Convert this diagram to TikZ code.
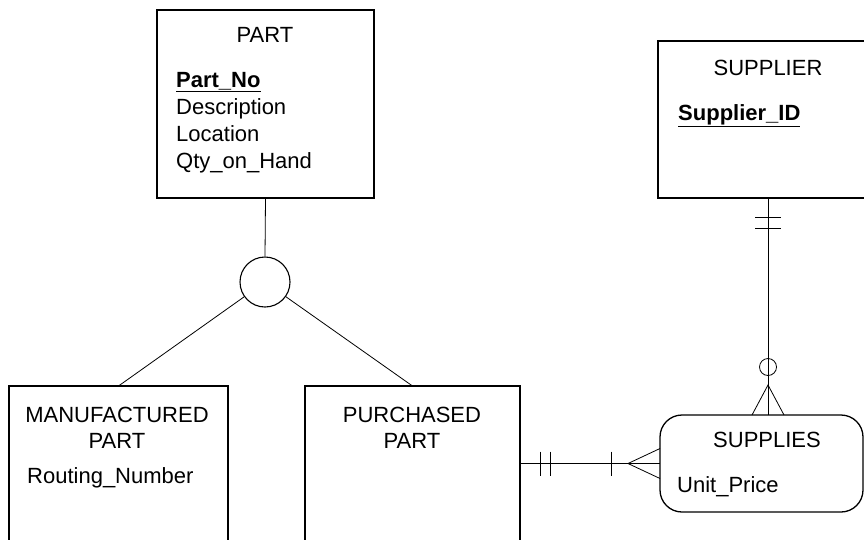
\documentclass[tikz,border=0pt]{standalone}
\usepackage{fontspec}
\setmainfont{Liberation Sans}
\usetikzlibrary{calc,positioning}

\begin{document}
\begin{tikzpicture}[x=1pt, y=-1pt,
    entity/.style={draw, line width=1.3pt, inner sep=0pt, outer sep=0pt},
    assoc/.style={entity, rounded corners=22pt},
    etext/.style={inner sep=0pt, anchor=base, font=\fontsize{22}{27}\selectfont},
    eattr/.style={etext, anchor=base west},
    link/.style={line width=0.8pt},
]
\useasboundingbox (0,0) rectangle (864,539);

% entity boxes
\node[entity, minimum width=217pt, minimum height=188pt] (part) at (265.5,104) {};
\node[entity, minimum width=220pt, minimum height=157pt] (supplier) at (768,119.5) {};
\node[entity, minimum width=219pt, minimum height=180pt] (mpart) at (118.5,476) {};
\node[entity, minimum width=215pt, minimum height=180pt] (ppart) at (412.5,476) {};
\node[assoc, minimum width=203pt, minimum height=97pt] (supplies) at (761.5,463.5) {};
\node[draw, circle, line width=1.1pt, minimum size=50pt, inner sep=0pt] (disj) at (265,282) {};

% texts
\node[etext] (partname) at (265,42) {PART};
\node[eattr] (partno) at (176,87) {\textbf{\underline{Part\_No}}};
\node[eattr] (partdesc) at (176,114) {Description};
\node[eattr] (partloc) at (176,141) {Location};
\node[eattr] (partqty) at (176,168) {Qty\_on\_Hand};

\node[etext] (suppname) at (768,75) {SUPPLIER};
\node[eattr] (suppid) at (678,120) {\textbf{\underline{Supplier\_ID}}};

\node[etext] (mpname) at (117,422) {MANUFACTURED};
\node[etext] (mpname2) at (117,448) {PART};
\node[eattr] (mproute) at (27,483) {Routing\_Number};

\node[etext] (ppname) at (412,422) {PURCHASED};
\node[etext] (ppname2) at (412,448) {PART};

\node[etext] (suppliesname) at (767,447) {SUPPLIES};
\node[eattr] (suppliesprice) at (677,492) {Unit\_Price};

% subtype connectors
\draw[link] (part.south) -- (disj.north);
\draw[link] (disj) -- (mpart.north);
\draw[link] (disj) -- (ppart.north);

% SUPPLIER -- SUPPLIES
\coordinate (sfoot) at (supplier.south |- supplies.north);
\draw[link] (supplier.south) -- (sfoot);
\draw[link] ($(supplier.south)+(-13,19)$) -- ++(26,0);
\draw[link] ($(supplier.south)+(-13,30)$) -- ++(26,0);
\node[draw, circle, link, minimum size=17pt, inner sep=0pt] (sopt) at ($(sfoot)+(0,-48)$) {};
\draw[link] ($(sfoot)+(-16,0)$) -- ($(sfoot)+(0,-30)$) -- ($(sfoot)+(16,0)$);

% PURCHASED PART -- SUPPLIES
\coordinate (pstart) at (ppart.east |- supplies.west);
\draw[link] (pstart) -- (supplies.west);
\draw[link] ($(pstart)+(20,-12)$) -- ++(0,24);
\draw[link] ($(pstart)+(30,-12)$) -- ++(0,24);
\draw[link] ($(pstart)+(91,-12)$) -- ++(0,24);
\draw[link] ($(supplies.west)+(0,-15)$) -- ($(supplies.west)+(-32,0)$) -- ($(supplies.west)+(0,15)$);
\end{tikzpicture}
\end{document}
